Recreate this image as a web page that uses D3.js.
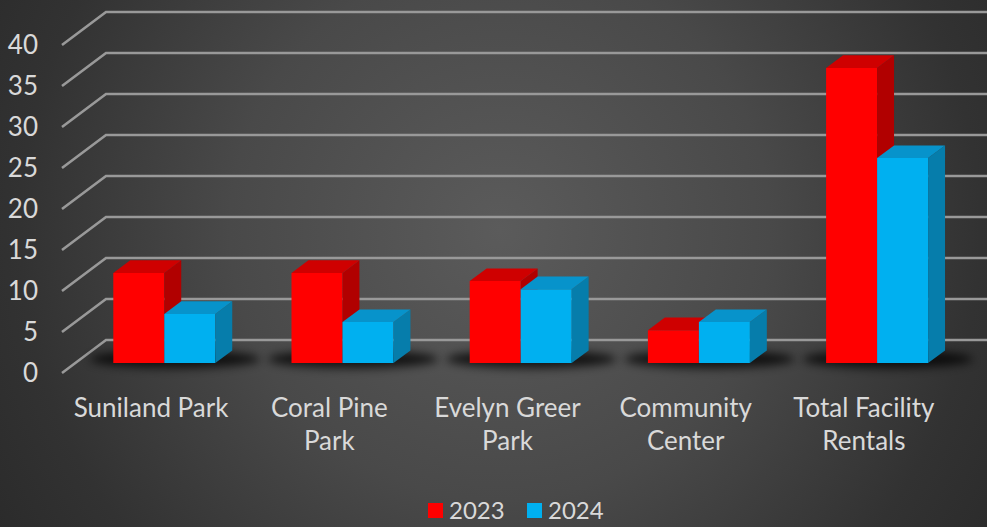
<!DOCTYPE html>
<html>
<head>
<meta charset="utf-8">
<script src="https://cdn.jsdelivr.net/npm/d3@7"></script>
<style>
  html, body { margin: 0; padding: 0; background: #2a2a2a; }
  svg { display: block; }
  text { font-family: Lato, "Open Sans", sans-serif; fill: #d9d9d9; }
</style>
</head>
<body>
<svg id="chart" width="987" height="527"></svg>
<script>
// Facility rentals by location, two years
const categories = ["Suniland Park", "Coral Pine Park", "Evelyn Greer Park", "Community Center", "Total Facility Rentals"];
const categoryLines = [["Suniland Park"], ["Coral Pine", "Park"], ["Evelyn Greer", "Park"], ["Community", "Center"], ["Total Facility", "Rentals"]];
const seriesNames = ["2023", "2024"];
const values2023 = [11, 11, 10, 4, 36];
const values2024 = [6, 5, 9, 5, 25];
const yTicks = [0, 5, 10, 15, 20, 25, 30, 35, 40];

const seriesValues = [values2023, values2024];
const colors = {
  "2023": { front: "#ff0000", top: "#cf0000", side: "#b10000" },
  "2024": { front: "#00b0f0", top: "#0793cb", side: "#067dab" }
};

const W = 987, H = 527;
const svg = d3.select("#chart");
const defs = svg.append("defs");

// Background: soft radial gradient, lighter near the middle
const bg = defs.append("radialGradient").attr("id", "bg")
  .attr("gradientUnits", "userSpaceOnUse")
  .attr("cx", 500).attr("cy", 230).attr("r", 600);
[[0, "#5b5b5b"], [0.45, "#494949"], [0.8, "#323232"], [1, "#2a2a2a"]].forEach(([o, c]) =>
  bg.append("stop").attr("offset", o).attr("stop-color", c));
svg.append("rect").attr("width", W).attr("height", H).attr("fill", "url(#bg)");

const blur = defs.append("filter").attr("id", "shadowBlur")
  .attr("x", "-50%").attr("y", "-300%").attr("width", "200%").attr("height", "700%");
blur.append("feGaussianBlur").attr("stdDeviation", 5);

// Front plane of the 3D box, plus the depth offset of the back wall
const plot = { left: 62, right: 953, bottom: 373, top: 45 };
const depth = { dx: 44, dy: -33 };
const barDepth = [0.3, 0.685];

const x = d3.scaleBand().domain(categories)
  .range([plot.left, plot.right])
  .paddingInner(0.4276).paddingOuter(0.2138);
const xs = d3.scaleBand().domain(seriesNames).range([0, x.bandwidth()]);
const y = d3.scaleLinear().domain([0, 40]).range([plot.bottom, plot.top]);

// project a front-plane point (px, value) pushed back by depth fraction d
const P = (px, v, d) => [px + depth.dx * d, y(v) + depth.dy * d];
const poly = pts => "M" + pts.map(p => p.join(",")).join("L") + "Z";

// Gridlines: diagonal on the side wall, horizontal on the back wall
const grid = svg.append("g").attr("stroke", "#999999").attr("stroke-width", 2.6).attr("fill", "none");
yTicks.forEach(t => {
  const a = P(plot.left, t, 0), b = P(plot.left, t, 1), c = P(plot.right, t, 1);
  grid.append("path").attr("d", "M" + a + "L" + b + "L" + c);
});

// Y axis labels
svg.append("g").selectAll("text").data(yTicks).join("text")
  .attr("x", 38).attr("y", d => y(d)).attr("dy", "0.36em")
  .attr("text-anchor", "end").attr("font-size", 26).text(d => d);

// Soft floor shadows under each cluster
svg.append("g").selectAll("ellipse").data(categories).join("ellipse")
  .attr("cx", d => P(x(d) + x.bandwidth() / 2, 0, 0.45)[0] + 4)
  .attr("cy", d => P(x(d), 0, 0.45)[1] + 1)
  .attr("rx", x.bandwidth() / 2 + 34).attr("ry", 9)
  .attr("fill", "#000").attr("opacity", 0.75)
  .attr("filter", "url(#shadowBlur)");

// Bars: front, side and top faces
const bars = svg.append("g");
categories.forEach((cat, i) => {
  seriesNames.forEach((s, j) => {
    const v = seriesValues[j][i];
    const x0 = x(cat) + xs(s), x1 = x0 + xs.bandwidth();
    const [d0, d1] = barDepth;
    const g = bars.append("g");
    g.append("path").attr("fill", colors[s].front)
      .attr("d", poly([P(x0, 0, d0), P(x1, 0, d0), P(x1, v, d0), P(x0, v, d0)]));
    g.append("path").attr("fill", colors[s].side)
      .attr("d", poly([P(x1, 0, d0), P(x1, 0, d1), P(x1, v, d1), P(x1, v, d0)]));
    g.append("path").attr("fill", colors[s].top)
      .attr("d", poly([P(x0, v, d0), P(x1, v, d0), P(x1, v, d1), P(x0, v, d1)]));
  });
});

// Category labels
const cl = svg.append("g").attr("font-size", 26).attr("text-anchor", "middle");
categories.forEach((cat, i) => {
  const t = cl.append("text").attr("x", x(cat) + x.bandwidth() / 2).attr("y", 417);
  categoryLines[i].forEach((line, k) => {
    t.append("tspan").attr("x", x(cat) + x.bandwidth() / 2).attr("dy", k === 0 ? 0 : 33).text(line);
  });
});

// Legend
const legendPos = [428, 527];
const lg = svg.append("g");
seriesNames.forEach((s, j) => {
  lg.append("rect").attr("x", legendPos[j]).attr("y", 503).attr("width", 15).attr("height", 15)
    .attr("fill", colors[s].front);
  lg.append("text").attr("x", legendPos[j] + 21).attr("y", 519).attr("font-size", 24).text(s);
});
</script>
</body>
</html>
